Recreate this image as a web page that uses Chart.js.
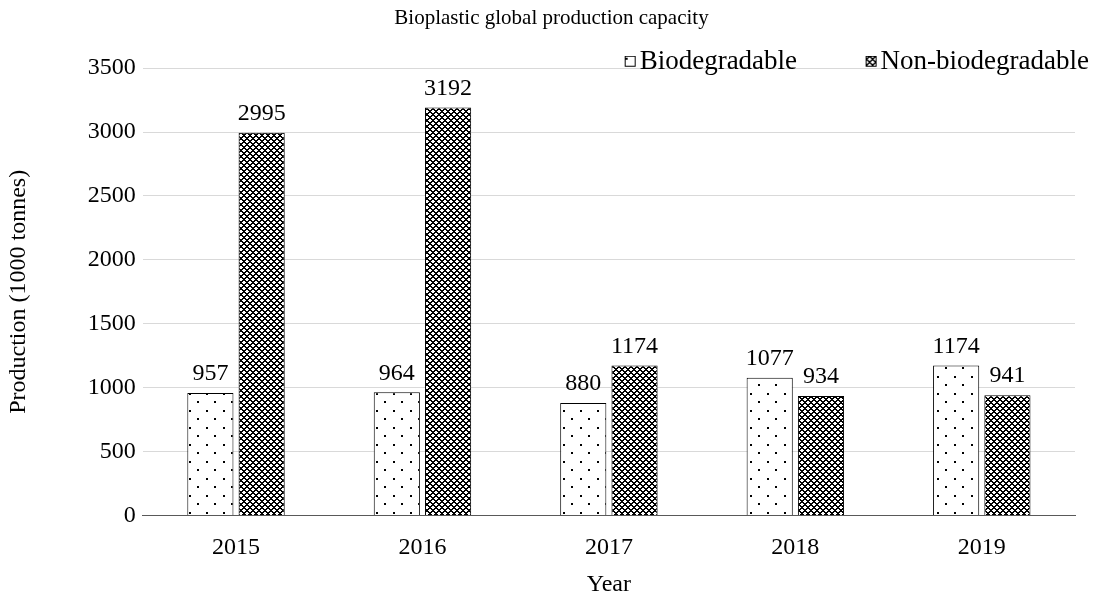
<!DOCTYPE html>
<html>
<head>
<meta charset="utf-8">
<script src="https://cdn.jsdelivr.net/npm/chart.js@4"></script>
<style>
	html, body { margin: 0; padding: 0; background: #fff; }
	#wrap { width: 1101px; height: 594px; }
</style>
</head>
<body>
<div id="wrap"><canvas id="chart" width="1101" height="594"></canvas></div>
<script>
'use strict';

const years = ['2015', '2016', '2017', '2018', '2019'];
const biodegradable = [957, 964, 880, 1077, 1174];
const nonBiodegradable = [2995, 3192, 1174, 934, 941];
const yTicks = [0, 500, 1000, 1500, 2000, 2500, 3000, 3500];

const FONT = '"Liberation Serif", "Times New Roman", serif';

function makeTile(size, paint) {
	let tile = document.createElement('canvas');
	tile.width = size;
	tile.height = size;
	let c = tile.getContext('2d');
	c.fillStyle = '#fff';
	c.fillRect(0, 0, size, size);
	c.fillStyle = '#000';
	paint(c, size);
	return tile;
}

function toPattern(tile) {
	return document.createElement('canvas').getContext('2d').createPattern(tile, 'repeat');
}

// sparse dots, offset rows
const dots = toPattern(makeTile(17, (c) => {
	c.fillRect(2, 2, 2, 2);
	c.fillRect(10, 10, 2, 2);
}));

// dense crosshatch
const hatch = toPattern(makeTile(6, (c, n) => {
	for (let x = 0; x < n; x++) {
		for (let y = 0; y < n; y++) {
			if ((x + y) % n < 2 || (x - y + 2 * n) % n < 2) {
				c.fillRect(x, y, 1, 1);
			}
		}
	}
}));

// legend swatch: small box pushed to the right edge of a wider image,
// so it sits close to its text like in the original
const LEGEND_FONT = 27;
const LEGEND_SLOT = 60;
function legendSwatch(fill) {
	let w = LEGEND_SLOT + LEGEND_FONT - 6;
	let img = document.createElement('canvas');
	img.width = w;
	img.height = 12;
	let c = img.getContext('2d');
	c.fillStyle = fill;
	c.fillRect(w - 12, 0, 11, 11);
	c.strokeStyle = '#000';
	c.lineWidth = 1;
	c.strokeRect(w - 11.5, 0.5, 10, 10);
	return img;
}

const valueLabels = {
	id: 'valueLabels',
	afterDatasetsDraw(chart) {
		let ctx = chart.ctx;
		ctx.save();
		ctx.font = '24px ' + FONT;
		ctx.fillStyle = '#000';
		ctx.textAlign = 'center';
		ctx.textBaseline = 'bottom';
		chart.data.datasets.forEach((ds, i) => {
			chart.getDatasetMeta(i).data.forEach((bar, j) => {
				ctx.fillText(String(ds.data[j]), bar.x, bar.y - 7);
			});
		});
		ctx.restore();
	}
};

// legend overlaps the top of the plot a little in the original
const tightLegend = {
	id: 'tightLegend',
	afterInit(chart) {
		let lg = chart.legend;
		let fit = lg.fit;
		lg.fit = function() {
			fit.call(this);
			this.height -= 17;
		};
		lg.draw = function() {
			if (this.options.display) {
				this._draw();
			}
		};
	}
};

new Chart(document.getElementById('chart'), {
	type: 'bar',
	data: {
		labels: years,
		datasets: [
			{
				label: 'Biodegradable',
				data: biodegradable,
				backgroundColor: dots,
				borderColor: '#000',
				borderWidth: 1,
				pointStyle: legendSwatch(dots)
			},
			{
				label: 'Non-biodegradable',
				data: nonBiodegradable,
				backgroundColor: hatch,
				borderColor: '#000',
				borderWidth: 1,
				pointStyle: legendSwatch(hatch)
			}
		]
	},
	options: {
		responsive: false,
		animation: false,
		devicePixelRatio: 1,
		categoryPercentage: 0.55,
		barPercentage: 0.9,
		layout: { padding: { left: 4, right: 2, top: 0, bottom: 0 } },
		plugins: {
			title: {
				display: true,
				text: 'Bioplastic global production capacity',
				color: '#000',
				font: { family: FONT, size: 21, weight: 'normal' },
				padding: { top: 6, bottom: 7 }
			},
			legend: {
				align: 'end',
				labels: {
					color: '#000',
					font: { family: FONT, size: LEGEND_FONT },
					usePointStyle: true,
					pointStyleWidth: LEGEND_SLOT,
					boxHeight: 12,
					padding: 10
				}
			},
			tooltip: { enabled: false }
		},
		scales: {
			x: {
				afterFit: (scale) => { scale.paddingRight = 26; },
				grid: { display: false, drawTicks: false },
				border: { color: '#595959' },
				ticks: { color: '#000', font: { family: FONT, size: 24, lineHeight: 0.6 }, padding: 25 },
				title: {
					display: true,
					text: 'Year',
					color: '#000',
					font: { family: FONT, size: 24, lineHeight: 0.3 },
					padding: { top: 1, bottom: 6 }
				}
			},
			y: {
				min: yTicks[0],
				max: yTicks[yTicks.length - 1],
				afterBuildTicks: (axis) => { axis.ticks = yTicks.map((v) => ({ value: v })); },
				grid: { color: '#d9d9d9', drawTicks: false },
				border: { display: false },
				ticks: {
					color: '#000',
					font: { family: FONT, size: 24 },
					padding: 7,
					callback: (v) => String(v)
				},
				title: {
					display: true,
					text: 'Production (1000 tonnes)',
					color: '#000',
					font: { family: FONT, size: 24 },
					padding: { top: 0, bottom: 48 }
				}
			}
		}
	},
	plugins: [valueLabels, tightLegend]
});
</script>
</body>
</html>
